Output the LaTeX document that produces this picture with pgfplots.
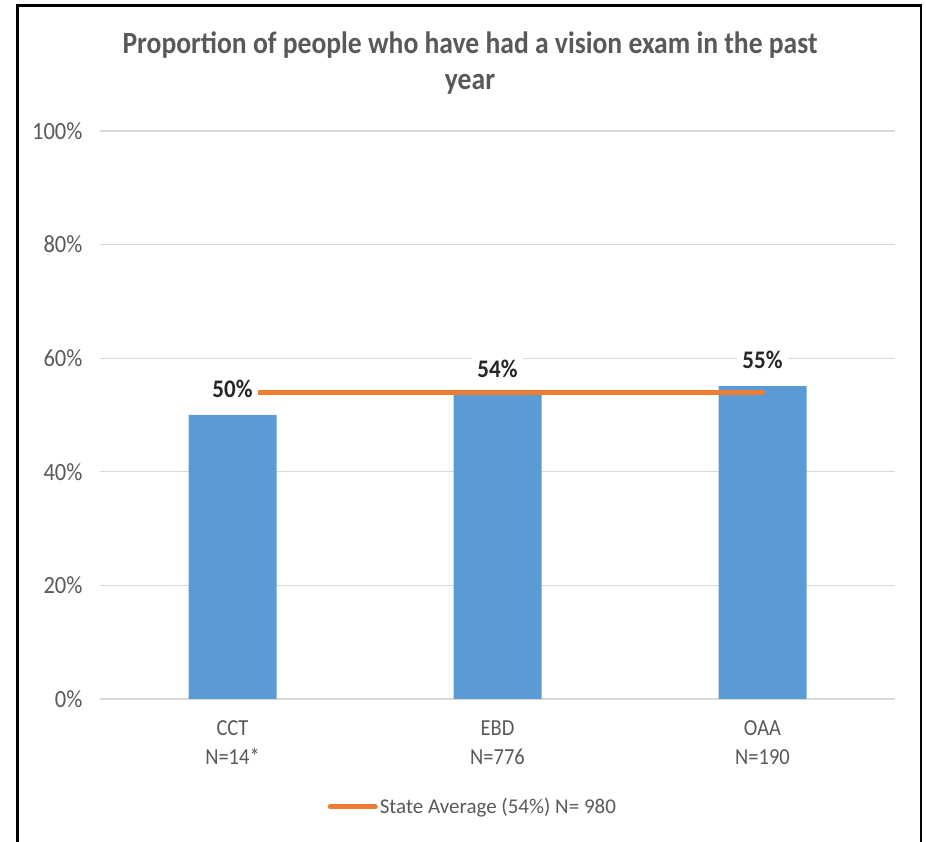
\documentclass[border=0pt]{standalone}
\usepackage{pgfplots}
\pgfplotsset{compat=1.18}
\usepackage{fontspec}
\setmainfont{Carlito}
\definecolor{txtgray}{HTML}{595959}
\definecolor{gridgray}{HTML}{D9D9D9}
\definecolor{barblue}{HTML}{5B9BD5}
\definecolor{lineorange}{HTML}{ED7D31}
\definecolor{lbl}{HTML}{262626}
\begin{document}
\begin{tikzpicture}[x=1pt,y=1pt]
\useasboundingbox (0,0) rectangle (926,842);
\draw[line width=2.7pt, black] (17.8,0) -- (17.8,836.7) -- (921,836.7) -- (921,0);
\node[align=center, font=\bfseries\fontsize{27.6}{32}\selectfont, text=txtgray, yscale=1.12] at (470,779) {Proportion of people who have had a vision exam in the past\\year};
\begin{axis}[
  at={(100pt,143pt)}, anchor=south west,
  scale only axis, width=795pt, height=568pt,
  xmin=-0.5, xmax=2.5, ymin=0, ymax=100,
  axis line style={draw=none},
  major tick length=0pt,
  ytick={0,20,40,60,80,100},
  yticklabel={\pgfmathprintnumber{\tick}\%},
  /pgf/number format/assume math mode=true,
  yticklabel style={font=\fontsize{22.5}{25}\selectfont, text=txtgray, anchor=east, xshift=-14pt, yscale=1.1},
  ymajorgrids, grid style={gridgray, line width=1.3pt},
  xtick={0,1,2},
  xticklabels={{CCT\\N=14*},{EBD\\N=776},{OAA\\N=190}},
  xticklabel style={align=center, font=\fontsize{20.5}{26}\selectfont, text=txtgray, anchor=north, yshift=-18pt, yscale=1.12},
  clip=false,
  legend style={at={(0.469,-0.19)}, anchor=center, draw=none, fill=none, font=\fontsize{21}{25}\selectfont, text=txtgray},
  legend image code/.code={\draw[#1] (0pt,0pt) -- (45pt,0pt);},
]
\addplot[ybar, bar width=88pt, fill=barblue, draw=none, forget plot] coordinates {(0,50) (1,53.5) (2,55.1)};
\addplot[lineorange, line width=5pt, line cap=round] coordinates {(0,54) (2,54)};
\addlegendentry{State Average (54\%) N= 980}
\addplot[draw=none, mark=none, forget plot, nodes near coords, point meta=explicit symbolic,
  nodes near coords style={font=\bfseries\fontsize{23}{27}\selectfont, text=lbl, fill=white, inner xsep=5pt, inner ysep=2pt, anchor=center, yshift=26pt, yscale=1.1}]
  coordinates {(0,50) [50\%] (1,53.5) [54\%] (2,55.1) [55\%]};
\end{axis}
\end{tikzpicture}
\end{document}
